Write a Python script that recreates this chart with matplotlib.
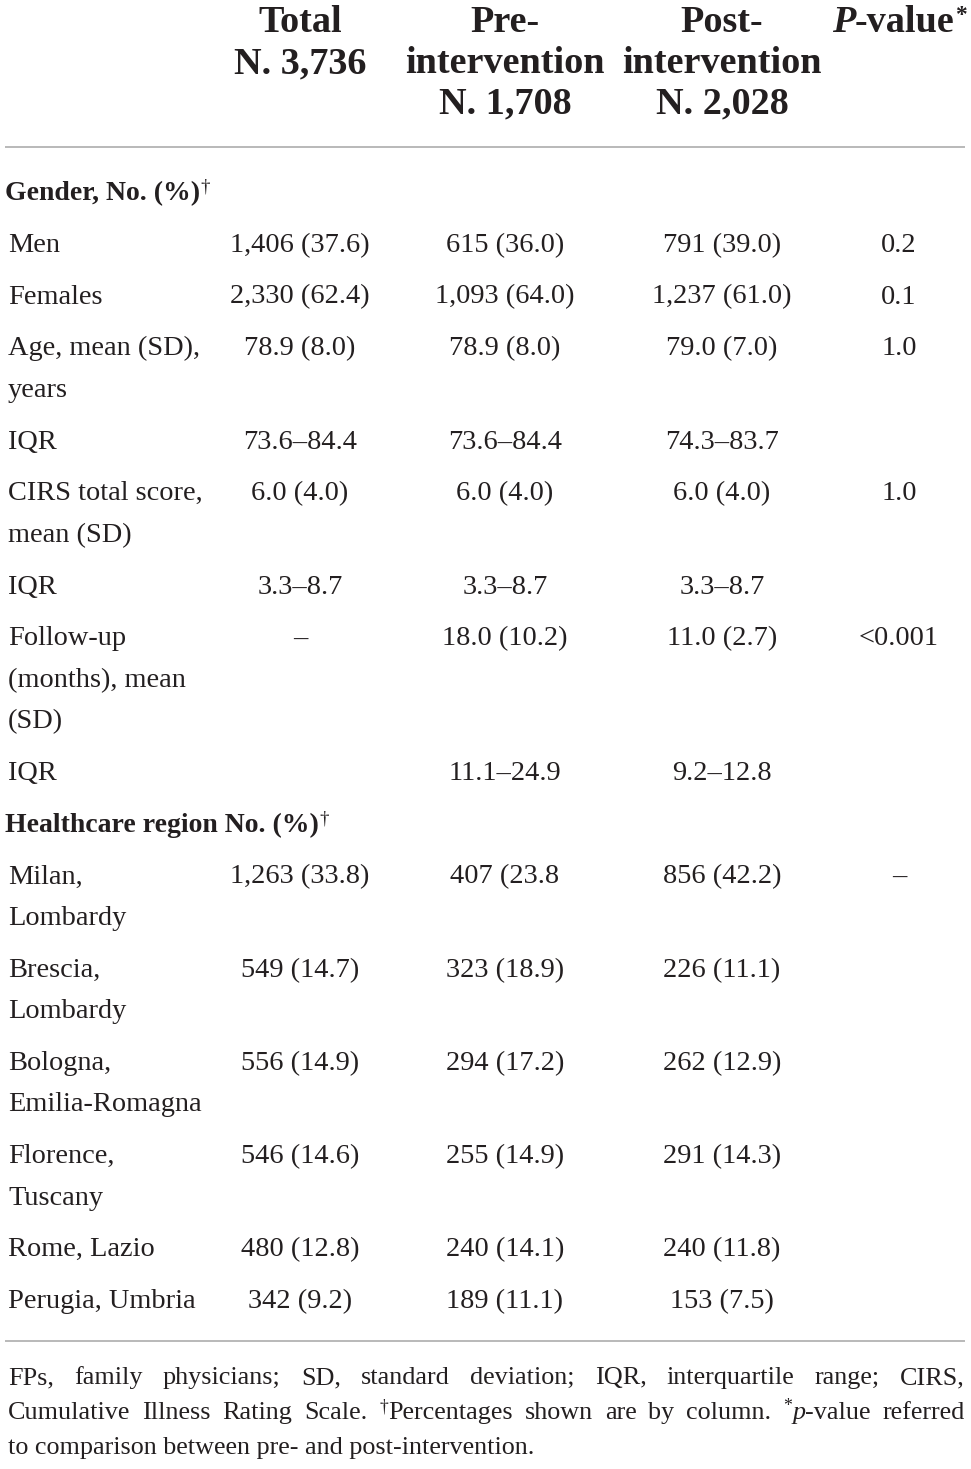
import matplotlib

matplotlib.use("Agg")
import matplotlib.pyplot as plt

W, H = 971, 1469
SERIF = "Liberation Serif"
INK = "#231f20"
RULE = "#a6a6a6"

# ---- table content ----
col_headers = [
    ["Total", "N. 3,736"],
    ["Pre-", "intervention", "N. 1,708"],
    ["Post-", "intervention", "N. 2,028"],
]
section_gender = "Gender, No. (%)"
section_region = "Healthcare region No. (%)"

gender_labels = [
    ["Men"],
    ["Females"],
    ["Age, mean (SD),", "years"],
    ["IQR"],
    ["CIRS total score,", "mean (SD)"],
    ["IQR"],
    ["Follow-up", "(months), mean", "(SD)"],
    ["IQR"],
]
gender_total = ["1,406 (37.6)", "2,330 (62.4)", "78.9 (8.0)", "73.6–84.4",
                "6.0 (4.0)", "3.3–8.7", "–", ""]
gender_pre = ["615 (36.0)", "1,093 (64.0)", "78.9 (8.0)", "73.6–84.4",
              "6.0 (4.0)", "3.3–8.7", "18.0 (10.2)", "11.1–24.9"]
gender_post = ["791 (39.0)", "1,237 (61.0)", "79.0 (7.0)", "74.3–83.7",
               "6.0 (4.0)", "3.3–8.7", "11.0 (2.7)", "9.2–12.8"]
gender_p = ["0.2", "0.1", "1.0", "", "1.0", "", "<0.001", ""]

region_labels = [
    ["Milan,", "Lombardy"],
    ["Brescia,", "Lombardy"],
    ["Bologna,", "Emilia-Romagna"],
    ["Florence,", "Tuscany"],
    ["Rome, Lazio"],
    ["Perugia, Umbria"],
]
region_total = ["1,263 (33.8)", "549 (14.7)", "556 (14.9)", "546 (14.6)",
                "480 (12.8)", "342 (9.2)"]
region_pre = ["407 (23.8", "323 (18.9)", "294 (17.2)", "255 (14.9)",
              "240 (14.1)", "189 (11.1)"]
region_post = ["856 (42.2)", "226 (11.1)", "262 (12.9)", "291 (14.3)",
               "240 (11.8)", "153 (7.5)"]
region_p = ["–", "", "", "", "", ""]

footer_line1 = "FPs, family physicians; SD, standard deviation; IQR, interquartile range; CIRS,"
footer_line3 = "to comparison between pre- and post-intervention."

# ---- layout ----
HEAD_SIZE = 27.5
BODY_SIZE = 20.4
SECTION_SIZE = 20.0
FOOT_SIZE = 18.8
LABEL_X = 8
COL_X = [300, 505, 722, 899]
LINE_STEP = 41.4
ROW_GAP = 51.8

fig = plt.figure(figsize=(W / 100, H / 100), dpi=100)
ax = fig.add_axes([0, 0, 1, 1])
ax.set_xlim(0, W)
ax.set_ylim(H, 0)
ax.axis("off")
renderer = fig.canvas.get_renderer()


def run(text, size=FOOT_SIZE, weight="normal", style="normal", sup=0.0):
    # sup: baseline raise as a fraction of the font size (0 = normal run)
    return dict(text=text, size=size, weight=weight, style=style, sup=sup)


def _size(r):
    return r["size"] * 0.68 if r["sup"] else r["size"]


def run_width(r):
    t = ax.text(0, 0, r["text"], fontsize=_size(r), family=SERIF,
                weight=r["weight"], style=r["style"])
    w = t.get_window_extent(renderer).width
    t.remove()
    return w


def draw_runs(x, y, runs, ha="left"):
    widths = [run_width(r) for r in runs]
    if ha == "center":
        x -= sum(widths) / 2
    for r, w in zip(runs, widths):
        dy = -r["size"] * 100 / 72 * r["sup"]
        ax.text(x, y + dy, r["text"], fontsize=_size(r), family=SERIF,
                weight=r["weight"], style=r["style"], color=INK,
                ha="left", va="baseline")
        x += w
    return x


def justify(y, tokens, x0, x1):
    widths = [sum(run_width(r) for r in tok) for tok in tokens]
    gap = (x1 - x0 - sum(widths)) / (len(tokens) - 1)
    x = x0
    for tok, w in zip(tokens, widths):
        draw_runs(x, y, tok)
        x += w + gap


# header
head_base = [32, 73, 113]
for cx, lines in zip(COL_X, col_headers):
    for i, line in enumerate(lines):
        ax.text(cx, head_base[i], line, fontsize=HEAD_SIZE, family=SERIF,
                weight="bold", color=INK, ha="center", va="baseline")
draw_runs(COL_X[3], head_base[0], [
    run("P", HEAD_SIZE, "bold", "italic"),
    run("-value", HEAD_SIZE, "bold"),
    run("*", HEAD_SIZE * 0.9, "bold", sup=0.33),
], ha="center")

ax.plot([5, 965], [147, 147], color=RULE, lw=1.1, solid_capstyle="butt")
ax.plot([5, 965], [1341, 1341], color=RULE, lw=1.1, solid_capstyle="butt")


def draw_section(y, title, labels, total, pre, post, pval):
    draw_runs(5, y, [run(title, SECTION_SIZE, weight="bold"),
                     run("†", SECTION_SIZE, sup=0.3)])
    for lab, vals in zip(labels, zip(total, pre, post, pval)):
        y += ROW_GAP
        for i, line in enumerate(lab):
            ax.text(LABEL_X, y + i * LINE_STEP, line, fontsize=BODY_SIZE,
                    family=SERIF, color=INK, ha="left", va="baseline")
        for cx, v in zip(COL_X, vals):
            ax.text(cx, y, v, fontsize=BODY_SIZE, family=SERIF, color=INK,
                    ha="center", va="baseline")
        y += (len(lab) - 1) * LINE_STEP
    return y


y_end = draw_section(200, section_gender, gender_labels, gender_total,
                     gender_pre, gender_post, gender_p)
draw_section(y_end + ROW_GAP, section_region, region_labels, region_total,
             region_pre, region_post, region_p)

# footer
justify(1384, [[run(w)] for w in footer_line1.split(" ")], 8, 965)
line2 = [[run(w)] for w in "Cumulative Illness Rating Scale.".split(" ")]
line2.append([run("†", sup=0.3), run("Percentages")])
line2 += [[run(w)] for w in "shown are by column.".split(" ")]
line2.append([run("*", sup=0.32), run("p", style="italic"), run("-value")])
line2.append([run("referred")])
justify(1419, line2, 8, 965)
ax.text(8, 1454, footer_line3, fontsize=FOOT_SIZE, family=SERIF, color=INK,
        ha="left", va="baseline")

fig.savefig("out.png", dpi=100, facecolor="white")
